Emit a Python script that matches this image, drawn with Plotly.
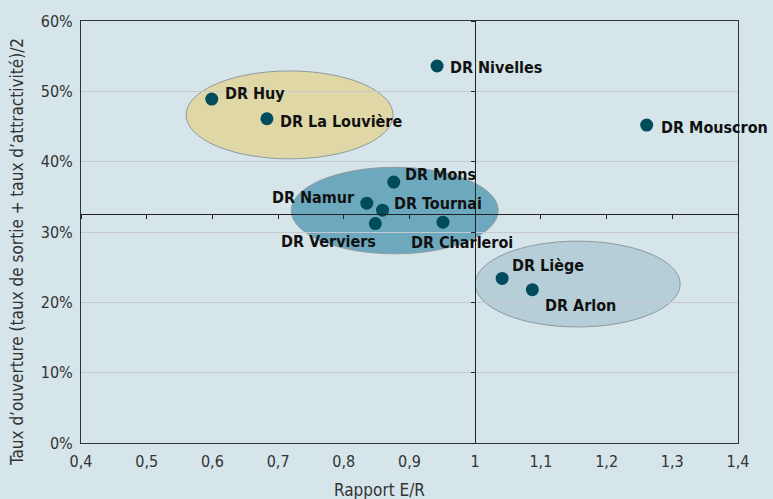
import plotly.graph_objects as go

# ---------------- data ----------------
NAMES = ["DR Huy", "DR La Louvière", "DR Nivelles", "DR Mouscron", "DR Mons",
         "DR Namur", "DR Tournai", "DR Verviers", "DR Charleroi", "DR Liège", "DR Arlon"]
RAPPORT_ER = [0.599, 0.683, 0.942, 1.261, 0.876, 0.835, 0.859, 0.848, 0.951, 1.041, 1.087]
TAUX_OUVERTURE = [0.489, 0.461, 0.536, 0.452, 0.371, 0.341, 0.331, 0.312, 0.314, 0.234, 0.218]

X_TICK_VALUES = [0.4, 0.5, 0.6, 0.7, 0.8, 0.9, 1.0, 1.1, 1.2, 1.3, 1.4]
X_TICK_LABELS = ["0,4", "0,5", "0,6", "0,7", "0,8", "0,9", "1", "1,1", "1,2", "1,3", "1,4"]
X_RANGE = [0.4, 1.4]
Y_RANGE = [0, 0.6]
X_CROSS = 1.0
Y_CROSS = 0.325

# groups (ellipses): x0, x1, y0, y1
GROUP_X0 = [0.560, 0.720, 1.000]
GROUP_X1 = [0.875, 1.035, 1.312]
GROUP_Y0 = [0.404, 0.269, 0.165]
GROUP_Y1 = [0.529, 0.392, 0.287]
GROUP_COLORS = ["rgba(224,215,160,0.92)", "rgba(85,155,180,0.82)", "rgba(170,198,208,0.75)"]

# label placement (anchor, xshift, yshift) in pixels
LABEL_POS = [("left", 11, 6), ("left", 11, -3), ("left", 11, -1), ("left", 12, -2),
             ("left", 9, 8), ("right", -10, 6), ("left", 9, 7), ("right", 3, -18),
             ("left", -34, -20), ("left", 8, 13), ("left", 11, -16)]

FONT = "Liberation Sans Narrow, Arial Narrow, DejaVu Sans Condensed, sans-serif"
BG = "#d5e5ea"

fig = go.Figure()

fig.add_trace(go.Scatter(
    x=RAPPORT_ER, y=TAUX_OUVERTURE, mode="markers",
    marker=dict(size=13, color="#004b5c"),
    hoverinfo="text", text=NAMES, showlegend=False))

# invisible trace to bind crossing axes
fig.add_trace(go.Scatter(x=[None], y=[None], xaxis="x2", yaxis="y2",
                         showlegend=False, hoverinfo="skip"))

for x0, x1, y0, y1, c in zip(GROUP_X0, GROUP_X1, GROUP_Y0, GROUP_Y1, GROUP_COLORS):
    fig.add_shape(type="circle", xref="x", yref="y", x0=x0, x1=x1, y0=y0, y1=y1,
                  fillcolor=c, line=dict(color="#8f9a9e", width=1), layer="below")

for name, xv, yv, (anc, xs, ys) in zip(NAMES, RAPPORT_ER, TAUX_OUVERTURE, LABEL_POS):
    fig.add_annotation(x=xv, y=yv, text="<b>%s</b>" % name, showarrow=False,
                       xanchor=anc, yanchor="middle", xshift=xs, yshift=ys,
                       font=dict(family=FONT, size=16, color="#111111"))

fig.add_annotation(xref="paper", yref="paper", x=0.455, y=-0.111,
                   text="Rapport E/R", showarrow=False, xanchor="center", yanchor="middle",
                   font=dict(family=FONT, size=17, color="#333333"))
fig.add_annotation(xref="paper", yref="paper", x=-0.097, y=0.453, textangle=-90,
                   text="Taux d’ouverture (taux de sortie + taux d’attractivité)/2",
                   showarrow=False, xanchor="center", yanchor="middle",
                   font=dict(family=FONT, size=17, color="#333333"))

fig.update_layout(
    width=773, height=499,
    margin=dict(l=81, r=35, t=19, b=56),
    paper_bgcolor=BG, plot_bgcolor=BG,
    font=dict(family=FONT, size=16, color="#333333"),
    xaxis=dict(range=X_RANGE, tickvals=X_TICK_VALUES, ticktext=X_TICK_LABELS,
               showgrid=False, zeroline=False, showline=True, mirror=True,
               linecolor="#333333", linewidth=1, ticks="", ticklabelstandoff=4),
    yaxis=dict(range=Y_RANGE, dtick=0.1, tickformat=".0%", showgrid=True,
               gridcolor="#c8c9d0", gridwidth=1, zeroline=False, showline=True,
               mirror=True, linecolor="#333333", linewidth=1, ticks="",
               ticklabelstandoff=4),
    xaxis2=dict(range=X_RANGE, overlaying="x", anchor="free",
                position=(Y_CROSS - Y_RANGE[0]) / (Y_RANGE[1] - Y_RANGE[0]),
                showline=True, linecolor="#222222", linewidth=1, ticks="outside",
                ticklen=4, tickcolor="#222222", dtick=0.1, tick0=0.4,
                showticklabels=False, showgrid=False, zeroline=False),
    yaxis2=dict(range=Y_RANGE, overlaying="y", anchor="free", side="left",
                position=(X_CROSS - X_RANGE[0]) / (X_RANGE[1] - X_RANGE[0]),
                showline=True, linecolor="#222222", linewidth=1, ticks="outside",
                ticklen=4, tickcolor="#222222", dtick=0.1,
                showticklabels=False, showgrid=False, zeroline=False),
)

fig.write_html("out.html", config={"displayModeBar": False},
               post_script="document.body.style.margin='0';document.body.style.overflow='hidden';")
